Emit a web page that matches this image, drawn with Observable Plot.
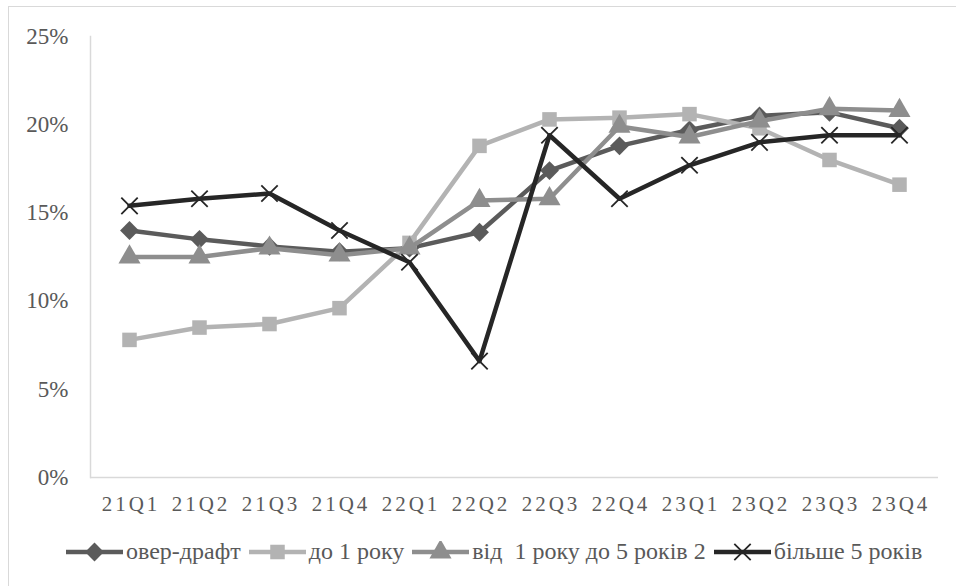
<!DOCTYPE html>
<html>
<head>
<meta charset="utf-8">
<script src="https://cdn.jsdelivr.net/npm/d3@7"></script>
<script src="https://cdn.jsdelivr.net/npm/@observablehq/plot@0.6"></script>
<style>
  html, body { margin: 0; padding: 0; background: #fff; }
  #wrap { position: relative; width: 956px; height: 586px; overflow: hidden; font-family: "Liberation Serif", "Times New Roman", serif; }
  #border { position: absolute; left: 8px; top: 6px; width: 1000px; height: 1000px; border: 1.5px solid #d9d9d9; box-sizing: border-box; }
  #chart { position: absolute; left: 0; top: 0; }
  #legend { position: absolute; left: 66px; top: 538px; display: flex; align-items: center; font-family: "Liberation Serif", serif; font-size: 24px; color: #595959; white-space: pre; }
  .item { display: flex; align-items: center; margin-right: 8px; }
  .item svg { margin-right: 3px; }
</style>
</head>
<body>
<div id="wrap">
  <div id="border"></div>
  <div id="chart"></div>
  <div id="legend"></div>
</div>
<script>
// Quarterly shares by loan term, percent
const quarters = ["21Q1", "21Q2", "21Q3", "21Q4", "22Q1", "22Q2", "22Q3", "22Q4", "23Q1", "23Q2", "23Q3", "23Q4"];
const overdraft = [14.0, 13.5, 13.1, 12.8, 13.0, 13.9, 17.4, 18.8, 19.7, 20.5, 20.7, 19.8];
const upTo1Year = [7.8, 8.5, 8.7, 9.6, 13.3, 18.8, 20.3, 20.4, 20.6, 19.8, 18.0, 16.6];
const from1To5Years = [12.5, 12.5, 13.0, 12.6, 13.0, 15.7, 15.8, 19.9, 19.3, 20.2, 20.9, 20.8];
const over5Years = [15.4, 15.8, 16.1, 14.0, 12.2, 6.6, 19.4, 15.8, 17.7, 19.0, 19.4, 19.4];

const seriesNames = ["овер-драфт", "до 1 року", "від  1 року до 5 років 2", "більше 5 років"];
const seriesValues = [overdraft, upTo1Year, from1To5Years, over5Years];
const yTicks = [0, 5, 10, 15, 20, 25];

// Drawing style per series
const styles = [
  {color: "#5b5b5b", symbol: "diamond2", r: 8.5, filled: true},
  {color: "#b3b3b3", symbol: "square", r: 8.2, filled: true},
  {color: "#8e8e8e", symbol: "triangle", r: 8.2, filled: true},
  {color: "#262626", symbol: "times", r: 7.5, filled: false}
];

const series = seriesNames.map((name, k) => ({
  name,
  ...styles[k],
  rows: quarters.map((q, i) => ({q, v: seriesValues[k][i]}))
}));

const marks = [
  Plot.frame({anchor: "left", stroke: "#d9d9d9", strokeWidth: 1.5}),
  Plot.ruleY([0], {stroke: "#d9d9d9", strokeWidth: 1.5}),
  Plot.axisY({ticks: yTicks, tickFormat: d => `${d}%`, tickSize: 0, tickPadding: 22, label: null, fill: "#595959", fontSize: 23}),
  Plot.axisX({tickSize: 0, tickPadding: 19, label: null, fill: "#595959", fontSize: 21, dx: 1.5})
];
for (const s of series) {
  marks.push(Plot.line(s.rows, {x: "q", y: "v", stroke: s.color, strokeWidth: 4.5, strokeLinejoin: "round"}));
  marks.push(Plot.dot(s.rows, s.filled
    ? {x: "q", y: "v", symbol: s.symbol, r: s.r, fill: s.color, stroke: "none"}
    : {x: "q", y: "v", symbol: s.symbol, r: s.r, stroke: s.color, strokeWidth: 1.8}));
}

const chart = Plot.plot({
  width: 956,
  height: 520,
  marginLeft: 90,
  marginRight: 18,
  marginTop: 36,
  marginBottom: 43,
  style: {fontFamily: "Liberation Serif, Times New Roman, serif", fontSize: "21px", background: "transparent", overflow: "visible"},
  x: {type: "point", domain: quarters, padding: 0.5, label: null},
  y: {domain: [0, 25], label: null},
  marks
});
// Spaced-out quarter labels
d3.select(chart).selectAll('[aria-label="x-axis tick label"] text').attr("letter-spacing", "3px");
document.getElementById("chart").appendChild(chart);

// Legend
const symbolTypes = {diamond2: d3.symbolDiamond2, square: d3.symbolSquare, triangle: d3.symbolTriangle, times: d3.symbolTimes};
const legend = d3.select("#legend");
for (const s of series) {
  const item = legend.append("div").attr("class", "item");
  const sw = item.append("svg").attr("width", 57).attr("height", 22);
  sw.append("line").attr("x1", 0).attr("x2", 57).attr("y1", 11).attr("y2", 11)
    .attr("stroke", s.color).attr("stroke-width", 4.5);
  const path = d3.symbol(symbolTypes[s.symbol], Math.PI * s.r * s.r)();
  const p = sw.append("path").attr("d", path).attr("transform", "translate(28.5,11)");
  if (s.filled) p.attr("fill", s.color);
  else p.attr("fill", "none").attr("stroke", s.color).attr("stroke-width", 1.8);
  item.append("span").text(s.name);
}
</script>
</body>
</html>
